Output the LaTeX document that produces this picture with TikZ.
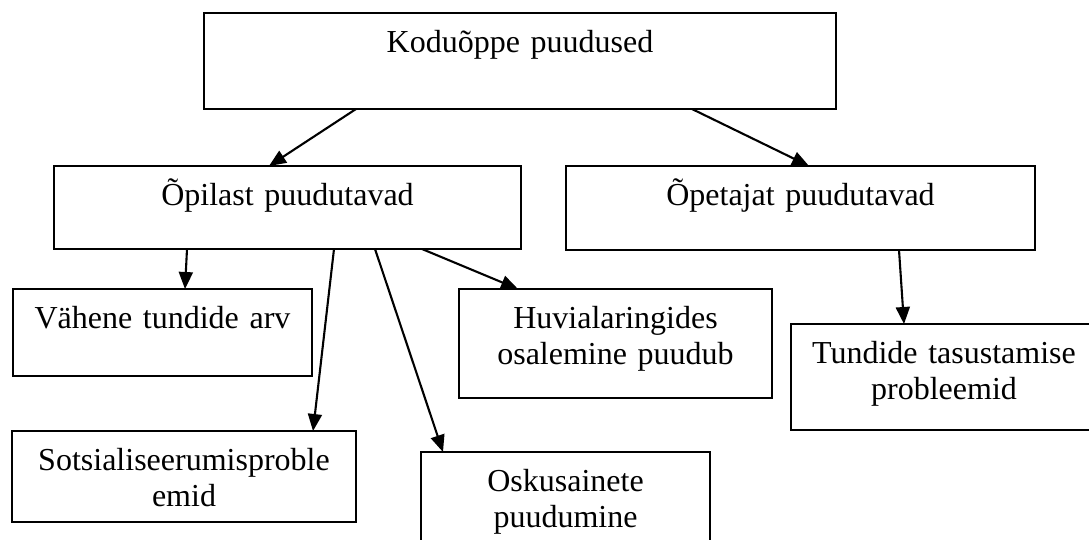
\documentclass[tikz,border=0pt]{standalone}
\usepackage{fontspec}
\setmainfont{Liberation Serif}
\usetikzlibrary{arrows.meta}

\tikzset{
  box/.style={draw, line width=1.9pt, inner sep=0pt, outer sep=0pt, anchor=north west,
    align=center, text height=39.5pt, font=\fontsize{32}{35.5}\selectfont},
}

\begin{document}
\begin{tikzpicture}[x=1pt,y=-1pt,>={Triangle[length=17pt,width=14pt]},line width=2.1pt]

\useasboundingbox (0,0) rectangle (1089,539);
\node[box,text width=632pt,text depth=56.5pt] (kodu) at (204,13) {Koduõppe puudused};
\node[box,text width=467pt,text depth=43.5pt] (opil) at (54,166) {Õpilast puudutavad};
\node[box,text width=469pt,text depth=44.5pt] (opet) at (566,166) {Õpetajat puudutavad};
\node[box,text width=299pt,text depth=47.5pt] (vahe) at (13,289) {Vähene tundide arv};
\node[box,text width=313pt,text depth=69.5pt] (huvi) at (459,289) {Huvialaringides\\osalemine puudub};
\node[box,text width=306pt,text depth=66.5pt] (tund) at (791,324) {Tundide tasustamise\\probleemid};
\node[box,text width=344pt,text depth=51.5pt] (sots) at (12,431) {Sotsialiseerumisproble\\emid};
\node[box,text width=289pt,text depth=68.5pt] (osku) at (421,452) {Oskusainete\\puudumine};
\draw[->] ([xshift=152pt]kodu.south west) -- ([xshift=215pt]opil.north west);
\draw[->] ([xshift=488pt]kodu.south west) -- ([xshift=243pt]opet.north west);
\draw[->] ([xshift=133pt]opil.south west) -- ([xshift=172pt]vahe.north west);
\draw[->] ([xshift=280pt]opil.south west) -- ([xshift=301pt]sots.north west);
\draw[->] ([xshift=321pt]opil.south west) -- ([xshift=22pt]osku.north west);
\draw[->] ([xshift=368pt]opil.south west) -- ([xshift=59pt]huvi.north west);
\draw[->] ([xshift=333pt]opet.south west) -- ([xshift=113pt]tund.north west);
\end{tikzpicture}
\end{document}
